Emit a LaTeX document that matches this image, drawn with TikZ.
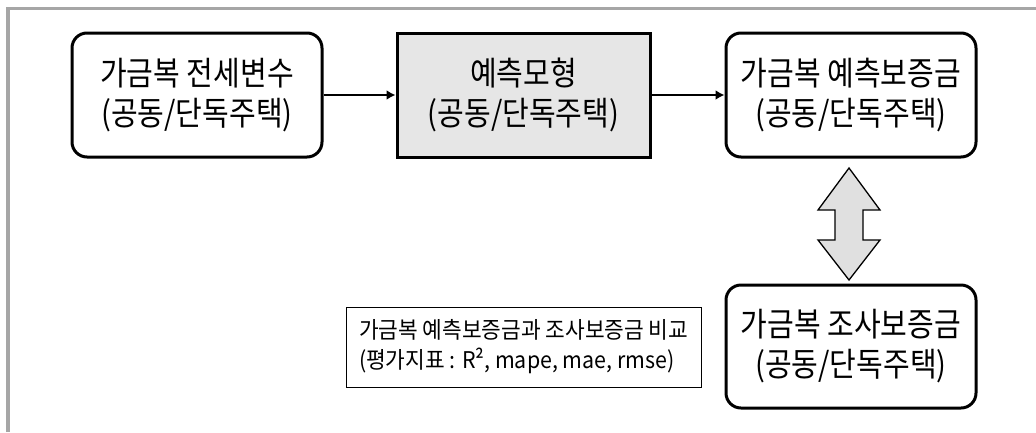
\documentclass[tikz,border=0pt]{standalone}
\usepackage{fontspec}
\setmainfont{Noto Sans CJK KR}[FakeStretch=0.88]
\newfontfamily\notefont{Noto Sans CJK KR}[FakeStretch=0.93]
\usetikzlibrary{arrows.meta,calc}
\definecolor{framegray}{HTML}{A6A6A6}
\definecolor{boxgray}{HTML}{E6E6E6}
\definecolor{arrowgray}{HTML}{E0E0E0}
\tikzset{
  rbox/.style={draw=black, line width=3pt, rounded corners=15pt, fill=white,
    minimum width=250pt, minimum height=124pt, inner sep=0pt, align=center,
    font=\fontsize{33}{40}\selectfont},
  gbox/.style={draw=black, line width=3pt, fill=boxgray,
    minimum width=253pt, minimum height=124pt, inner sep=0pt, align=center,
    font=\fontsize{33}{40}\selectfont},
  notebox/.style={draw=black, line width=1pt, minimum width=355pt, minimum height=80pt,
    inner sep=0pt, align=left, font=\notefont\fontsize{23}{30}\selectfont},
  flow/.style={line width=2.8pt, -{Latex[length=9pt,width=10pt]}},
  dblarrow/.style={draw=black, line width=1.3pt, fill=arrowgray, line join=miter}
}
\begin{document}
\begin{tikzpicture}[x=1pt,y=-1pt]
\useasboundingbox (0,0) rectangle (1036,432);
\fill[white] (0,0) rectangle (1036,432);
\draw[framegray, line width=3.5pt] (8,432) -- (8,8.5) -- (1036,8.5);

\node[rbox] (b1) at (197,95) {가금복 전세변수\\(공동/단독주택)};
\node[gbox] (b2) at (523.5,95) {예측모형\\(공동/단독주택)};
\node[rbox] (b3) at (851,95) {가금복 예측보증금\\(공동/단독주택)};
\node[rbox, minimum height=123pt] (b4) at (851,346.5) {가금복 조사보증금\\(공동/단독주택)};
\node[notebox] (note) at (523.5,347) {\hspace*{11pt}\parbox{340pt}{가금복 예측보증금과 조사보증금 비교\\(평가지표 : R², mape, mae, rmse)}};

\draw[flow] (b1.east) -- (b2.west);
\draw[flow] (b2.east) -- (b3.west);

\draw[dblarrow] (849,168) -- (880,210) -- (863,210) -- (863,240) -- (880,240)
  -- (849,280) -- (818,240) -- (835,240) -- (835,210) -- (818,210) -- cycle;
\end{tikzpicture}
\end{document}
